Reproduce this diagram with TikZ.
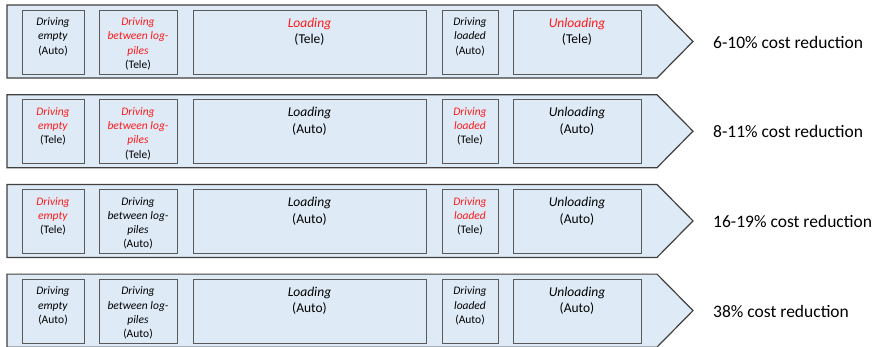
\documentclass[tikz,border=0pt]{standalone}
\usepackage{fontspec}
\setmainfont{Carlito}
\definecolor{fillblue}{HTML}{DEEBF7}
\definecolor{edgegray}{HTML}{404040}
\definecolor{boxgray}{HTML}{595959}
\definecolor{redtxt}{HTML}{FF1A1A}
\newcommand\rd[1]{\textcolor{redtxt}{#1}}
\tikzset{
  arrowshape/.style={draw=edgegray, fill=fillblue, line width=1.2pt, line join=miter},
  actbox/.style={draw=boxgray, fill=fillblue, line width=0.9pt, inner sep=0pt},
  small/.style={anchor=north, align=center, inner sep=0pt, font=\fontsize{11.5}{14.3}\selectfont},
  big/.style={anchor=north, align=center, inner sep=0pt, font=\fontsize{13.5}{16.5}\selectfont},
  cost/.style={anchor=west, inner sep=0pt, font=\fontsize{17.5}{20}\selectfont}
}
\newcommand\rowboxes{%
  \draw[arrowshape] (7,0) -- (657,0) -- (693,-36.5) -- (657,-73) -- (7,-73) -- cycle;
  \node[actbox, minimum width=62pt, minimum height=64pt] (a) at (53,-37) {};
  \node[actbox, minimum width=78pt, minimum height=64pt] (b) at (138,-37) {};
  \node[actbox, minimum width=233pt, minimum height=64pt] (c) at (309.5,-37) {};
  \node[actbox, minimum width=56pt, minimum height=64pt] (d) at (470,-37) {};
  \node[actbox, minimum width=128pt, minimum height=64pt] (e) at (577,-37) {};
}
\begin{document}
\begin{tikzpicture}[x=1pt,y=1pt]
\useasboundingbox (0,0) rectangle (877,-346);
\clip (0,0) rectangle (877,-346);
% Row 1
\begin{scope}[yshift=-5pt, name prefix=r1-]
  \rowboxes
  \node[small] (at) at ([yshift=-8pt]a.north) {\textit{Driving}\\\textit{empty}\\(Auto)};
  \node[small] (bt) at ([yshift=-8pt]b.north) {\rd{\textit{Driving}}\\\rd{\textit{between log-}}\\\rd{\textit{piles}}\\(Tele)};
  \node[big] (ct) at ([yshift=-8pt]c.north) {\rd{\textit{Loading}}\\(Tele)};
  \node[small] (dt) at ([yshift=-8pt]d.north) {\textit{Driving}\\\textit{loaded}\\(Auto)};
  \node[big] (et) at ([yshift=-8pt]e.north) {\rd{\textit{Unloading}}\\(Tele)};
  \node[cost] (cr) at (713,-37) {6-10\% cost reduction};
\end{scope}
% Row 2
\begin{scope}[yshift=-94.7pt, name prefix=r2-]
  \rowboxes
  \node[small] (at) at ([yshift=-8pt]a.north) {\rd{\textit{Driving}}\\\rd{\textit{empty}}\\(Tele)};
  \node[small] (bt) at ([yshift=-8pt]b.north) {\rd{\textit{Driving}}\\\rd{\textit{between log-}}\\\rd{\textit{piles}}\\(Tele)};
  \node[big] (ct) at ([yshift=-8pt]c.north) {\textit{Loading}\\(Auto)};
  \node[small] (dt) at ([yshift=-8pt]d.north) {\rd{\textit{Driving}}\\\rd{\textit{loaded}}\\(Tele)};
  \node[big] (et) at ([yshift=-8pt]e.north) {\textit{Unloading}\\(Auto)};
  \node[cost] (cr) at (713,-37) {8-11\% cost reduction};
\end{scope}
% Row 3
\begin{scope}[yshift=-184.4pt, name prefix=r3-]
  \rowboxes
  \node[small] (at) at ([yshift=-8pt]a.north) {\rd{\textit{Driving}}\\\rd{\textit{empty}}\\(Tele)};
  \node[small] (bt) at ([yshift=-8pt]b.north) {\textit{Driving}\\\textit{between log-}\\\textit{piles}\\(Auto)};
  \node[big] (ct) at ([yshift=-8pt]c.north) {\textit{Loading}\\(Auto)};
  \node[small] (dt) at ([yshift=-8pt]d.north) {\rd{\textit{Driving}}\\\rd{\textit{loaded}}\\(Tele)};
  \node[big] (et) at ([yshift=-8pt]e.north) {\textit{Unloading}\\(Auto)};
  \node[cost] (cr) at (713,-37) {16-19\% cost reduction};
\end{scope}
% Row 4
\begin{scope}[yshift=-274.1pt, name prefix=r4-]
  \rowboxes
  \node[small] (at) at ([yshift=-8pt]a.north) {\textit{Driving}\\\textit{empty}\\(Auto)};
  \node[small] (bt) at ([yshift=-8pt]b.north) {\textit{Driving}\\\textit{between log-}\\\textit{piles}\\(Auto)};
  \node[big] (ct) at ([yshift=-8pt]c.north) {\textit{Loading}\\(Auto)};
  \node[small] (dt) at ([yshift=-8pt]d.north) {\textit{Driving}\\\textit{loaded}\\(Auto)};
  \node[big] (et) at ([yshift=-8pt]e.north) {\textit{Unloading}\\(Auto)};
  \node[cost] (cr) at (713,-37) {38\% cost reduction};
\end{scope}
\end{tikzpicture}
\end{document}
